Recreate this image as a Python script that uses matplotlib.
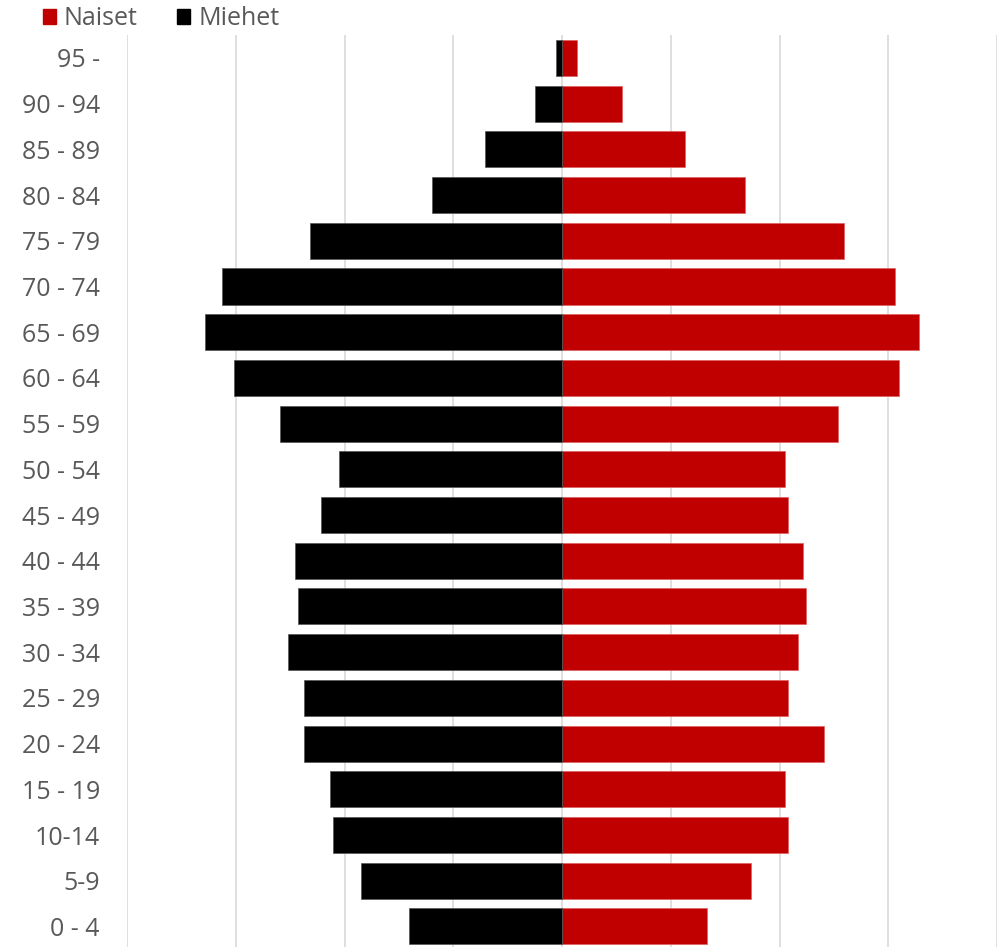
import matplotlib.pyplot as plt
import numpy as np
from matplotlib.patches import Patch

plt.rcParams["font.family"] = ["Open Sans", "DejaVu Sans"]

# Age groups, bottom to top
age_groups = ["0 - 4", "5-9", "10-14", "15 - 19", "20 - 24", "25 - 29", "30 - 34",
              "35 - 39", "40 - 44", "45 - 49", "50 - 54", "55 - 59", "60 - 64",
              "65 - 69", "70 - 74", "75 - 79", "80 - 84", "85 - 89", "90 - 94", "95 -"]
naiset = [133, 174, 208, 205, 241, 208, 217, 224, 222, 208, 205, 254, 310,
          328, 306, 259, 168, 113, 55, 14]
miehet = [141, 185, 211, 213, 237, 237, 252, 243, 246, 222, 205, 259, 302,
          328, 313, 232, 120, 71, 25, 5.5]

RED = "#C00000"
BLACK = "#000000"
GREY_TXT = "#595959"

fig = plt.figure(figsize=(10.05, 9.47), dpi=100)
ax = fig.add_axes([0.1264, 0.0, 0.8657, 0.963])

y = np.arange(len(age_groups))
ax.barh(y, naiset, height=0.79, color=RED, edgecolor="#e06060", linewidth=0.5, zorder=2)
ax.barh(y, [-v for v in miehet], height=0.79, color=BLACK, edgecolor="#555555",
        linewidth=0.5, zorder=2)

ax.set_xlim(-400, 400)
ax.set_ylim(-0.45, 19.5)
ax.set_xticks(np.arange(-400, 401, 100))
ax.set_xticklabels([])
ax.tick_params(axis="x", length=0)
ax.grid(axis="x", color="#d9d9d9", linewidth=1.2, zorder=0)
ax.set_axisbelow(True)

ax.set_yticks(y)
ax.set_yticklabels(age_groups, fontsize=18, color=GREY_TXT)
ax.tick_params(axis="y", length=0, pad=19.5)
for s in ax.spines.values():
    s.set_visible(False)

handles = [Patch(color=RED, label="Naiset"), Patch(color=BLACK, label="Miehet")]
fig.legend(handles=handles, loc="upper left", bbox_to_anchor=(0.020, 1.017), ncol=2,
           frameon=False, fontsize=18, labelcolor=GREY_TXT, handlelength=0.52,
           handleheight=0.52, handletextpad=0.32, columnspacing=1.6)

fig.savefig("out.png", dpi=100)
